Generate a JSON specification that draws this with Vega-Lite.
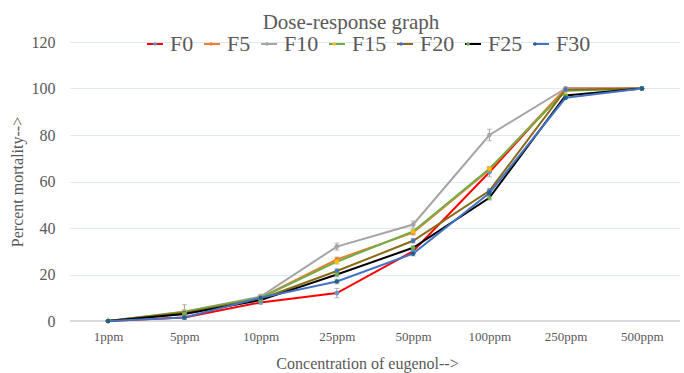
{
  "$schema": "https://vega.github.io/schema/vega-lite/v6.json",
  "width": 610,
  "height": 279,
  "autosize": {"type": "none"},
  "padding": {"left": 70, "top": 42, "right": 4, "bottom": 52},
  "background": "white",
  "title": {"text": "Dose-response graph", "font": "Liberation Serif", "fontSize": 21, "fontWeight": "normal", "color": "#595959", "anchor": "middle", "dx": -24, "dy": 12, "offset": 12},
  "config": {"font": "Liberation Serif", "view": {"stroke": null}, "legend": {"labelFont": "Liberation Serif", "labelFontWeight": "normal"}},
  "data": {"values": [
    {"conc": "1ppm", "series": "F0", "value": 0, "err": 0},
    {"conc": "5ppm", "series": "F0", "value": 1.5, "err": 0.8},
    {"conc": "10ppm", "series": "F0", "value": 8, "err": 0.8},
    {"conc": "25ppm", "series": "F0", "value": 12, "err": 2},
    {"conc": "50ppm", "series": "F0", "value": 30, "err": 1},
    {"conc": "100ppm", "series": "F0", "value": 64, "err": 2},
    {"conc": "250ppm", "series": "F0", "value": 100, "err": 0},
    {"conc": "500ppm", "series": "F0", "value": 100, "err": 0},
    {"conc": "1ppm", "series": "F5", "value": 0, "err": 0},
    {"conc": "5ppm", "series": "F5", "value": 3, "err": 0.8},
    {"conc": "10ppm", "series": "F5", "value": 10, "err": 0.8},
    {"conc": "25ppm", "series": "F5", "value": 26.5, "err": 1},
    {"conc": "50ppm", "series": "F5", "value": 38, "err": 1},
    {"conc": "100ppm", "series": "F5", "value": 65, "err": 1},
    {"conc": "250ppm", "series": "F5", "value": 100, "err": 0},
    {"conc": "500ppm", "series": "F5", "value": 100, "err": 0},
    {"conc": "1ppm", "series": "F10", "value": 0, "err": 0},
    {"conc": "5ppm", "series": "F10", "value": 4, "err": 3},
    {"conc": "10ppm", "series": "F10", "value": 10.5, "err": 1},
    {"conc": "25ppm", "series": "F10", "value": 32, "err": 1.5},
    {"conc": "50ppm", "series": "F10", "value": 41.5, "err": 1.5},
    {"conc": "100ppm", "series": "F10", "value": 80, "err": 2.5},
    {"conc": "250ppm", "series": "F10", "value": 100, "err": 0},
    {"conc": "500ppm", "series": "F10", "value": 100, "err": 0},
    {"conc": "1ppm", "series": "F15", "value": 0, "err": 0},
    {"conc": "5ppm", "series": "F15", "value": 4, "err": 0.8},
    {"conc": "10ppm", "series": "F15", "value": 10, "err": 0.8},
    {"conc": "25ppm", "series": "F15", "value": 25.5, "err": 1},
    {"conc": "50ppm", "series": "F15", "value": 38.5, "err": 1},
    {"conc": "100ppm", "series": "F15", "value": 65.5, "err": 1},
    {"conc": "250ppm", "series": "F15", "value": 99, "err": 0},
    {"conc": "500ppm", "series": "F15", "value": 100, "err": 0},
    {"conc": "1ppm", "series": "F20", "value": 0, "err": 0},
    {"conc": "5ppm", "series": "F20", "value": 3.5, "err": 0.8},
    {"conc": "10ppm", "series": "F20", "value": 9.5, "err": 0.8},
    {"conc": "25ppm", "series": "F20", "value": 21.5, "err": 1},
    {"conc": "50ppm", "series": "F20", "value": 34.5, "err": 1},
    {"conc": "100ppm", "series": "F20", "value": 56, "err": 1},
    {"conc": "250ppm", "series": "F20", "value": 99.5, "err": 0},
    {"conc": "500ppm", "series": "F20", "value": 100, "err": 0},
    {"conc": "1ppm", "series": "F25", "value": 0, "err": 0},
    {"conc": "5ppm", "series": "F25", "value": 3, "err": 0.8},
    {"conc": "10ppm", "series": "F25", "value": 9, "err": 0.8},
    {"conc": "25ppm", "series": "F25", "value": 20, "err": 1},
    {"conc": "50ppm", "series": "F25", "value": 31.5, "err": 1},
    {"conc": "100ppm", "series": "F25", "value": 53, "err": 1},
    {"conc": "250ppm", "series": "F25", "value": 97, "err": 0},
    {"conc": "500ppm", "series": "F25", "value": 100, "err": 0},
    {"conc": "1ppm", "series": "F30", "value": 0, "err": 0},
    {"conc": "5ppm", "series": "F30", "value": 1.5, "err": 0.8},
    {"conc": "10ppm", "series": "F30", "value": 10, "err": 0.8},
    {"conc": "25ppm", "series": "F30", "value": 17, "err": 1},
    {"conc": "50ppm", "series": "F30", "value": 29, "err": 1},
    {"conc": "100ppm", "series": "F30", "value": 55, "err": 1},
    {"conc": "250ppm", "series": "F30", "value": 96, "err": 0},
    {"conc": "500ppm", "series": "F30", "value": 100, "err": 0}
  ]},
  "encoding": {
    "x": {"field": "conc", "type": "ordinal", "sort": ["1ppm", "5ppm", "10ppm", "25ppm", "50ppm", "100ppm", "250ppm", "500ppm"],
      "scale": {"type": "point", "padding": 0.5},
      "axis": {"title": "Concentration of eugenol-->", "titleFont": "Liberation Serif", "titleFontSize": 16, "titleFontWeight": "normal", "titleColor": "#595959", "titlePadding": 12, "titleX": 297,
        "labelFont": "Liberation Serif", "labelFontSize": 13, "labelColor": "#595959", "labelAngle": 0, "labelPadding": 9,
        "ticks": false, "domain": false, "grid": false}
    },
    "y": {"field": "value", "type": "quantitative",
      "scale": {"domain": [0, 120]},
      "axis": {"values": [0, 20, 40, 60, 80, 100, 120], "title": "Percent mortality-->", "titleFont": "Liberation Serif", "titleFontSize": 16, "titleFontWeight": "normal", "titleColor": "#595959", "titlePadding": 6,
        "labelFont": "Liberation Serif", "labelFontSize": 16, "labelColor": "#595959", "labelPadding": 15,
        "ticks": false, "domain": false, "grid": true, "gridColor": "#dfe9f3", "gridWidth": 1}
    }
  },
  "layer": [
    {
      "mark": {"type": "rule", "color": "#d9d9d9", "strokeWidth": 1},
      "encoding": {"y": {"datum": 0}, "x": null}
    },
    {
      "mark": {"type": "errorbar", "ticks": {"size": 5}, "color": "#9e9e9e", "thickness": 1},
      "encoding": {"yError": {"field": "err"}, "detail": {"field": "series"}}
    },
    {
      "mark": {"type": "line", "strokeWidth": 2},
      "encoding": {
        "color": {"field": "series", "type": "nominal",
          "scale": {"domain": ["F0", "F5", "F10", "F15", "F20", "F25", "F30"], "range": ["#ff0000", "#ed7d31", "#a5a5a5", "#70ad47", "#8a6a12", "#000000", "#4472c4"]},
          "legend": {"title": null, "orient": "none", "legendX": 74, "legendY": -9, "direction": "horizontal", "columns": 7, "columnPadding": 6, "gridAlign": "none",
            "symbolType": "M-1,0L1,0", "symbolSize": 256, "symbolStrokeWidth": 2, "labelFont": "Liberation Serif", "labelFontWeight": "normal", "labelFontSize": 22, "labelColor": "#595959", "labelOffset": 4}
        }
      }
    },
    {
      "mark": {"type": "point", "filled": true, "size": 22, "opacity": 1},
      "encoding": {
        "fill": {"field": "series", "type": "nominal",
          "scale": {"domain": ["F0", "F5", "F10", "F15", "F20", "F25", "F30"], "range": ["#5b9bd5", "#ed7d31", "#a5a5a5", "#ffc000", "#4472c4", "#70ad47", "#255e91"]},
          "legend": {"title": null, "orient": "none", "legendX": 74, "legendY": -9, "direction": "horizontal", "columns": 7, "columnPadding": 6, "gridAlign": "none",
            "symbolType": "M-0.22,0A0.22,0.22,0,1,1,0.22,0A0.22,0.22,0,1,1,-0.22,0Z", "symbolSize": 256, "symbolStrokeWidth": 0, "symbolOpacity": 1, "labelFont": "Liberation Serif", "labelFontWeight": "normal", "labelFontSize": 22, "labelOpacity": 0, "labelOffset": 4}
        }
      }
    }
  ],
  "resolve": {"scale": {"color": "independent", "fill": "independent"}, "legend": {"color": "independent", "fill": "independent"}}
}
